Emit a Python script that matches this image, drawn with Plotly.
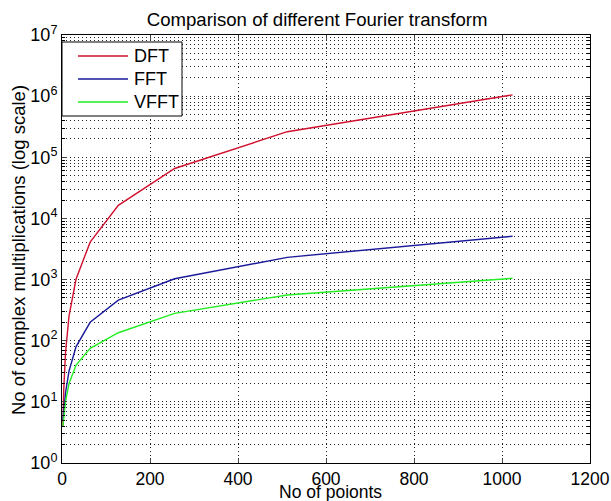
import plotly.graph_objects as go

points = [2, 4, 8, 16, 32, 64, 128, 256, 512, 1024]
dft = [4, 16, 64, 256, 1024, 4096, 16384, 65536, 262144, 1048576]
fft = [5, 8, 14, 32, 80, 200, 460, 1030, 2310, 5120]
vfft = [4, 6, 10, 20, 40, 75, 135, 280, 560, 1050]

series_names = ["DFT", "FFT", "VFFT"]
series_colors = ["#d0102e", "#1a1a9a", "#22ee22"]

xticks = [0, 200, 400, 600, 800, 1000, 1200]
yticks = [1, 10, 100, 1000, 10000, 100000, 1000000, 10000000]
ytext = ["10<sup>%d</sup>" % i for i in range(8)]

font = "Liberation Sans, Arial, sans-serif"

W, H = 611, 501
L, R, T, B = 62, 21, 35, 38
pw, ph = W - L - R, H - T - B


def px(x):
    return (x - L) / pw


def py(y):
    return (T + ph - y) / ph


fig = go.Figure()
for name, ys, col in zip(series_names, [dft, fft, vfft], series_colors):
    fig.add_trace(go.Scatter(x=points, y=ys, mode="lines", name=name,
                             line=dict(color=col, width=1.4), showlegend=False))

dots = "1px,3px"
grid = dict(showgrid=True, gridcolor="#222222", griddash=dots, gridwidth=1)

# legend drawn as a box with samples
shapes = [dict(type="rect", xref="paper", yref="paper",
               x0=px(62), x1=px(182), y0=py(116), y1=py(42),
               line=dict(color="black", width=1), fillcolor="white",
               layer="above")]
annotations = []
for i, (name, col) in enumerate(zip(series_names, series_colors)):
    yy = 56 + i * 23
    shapes.append(dict(type="line", xref="paper", yref="paper",
                       x0=px(78), x1=px(128), y0=py(yy), y1=py(yy),
                       line=dict(color=col, width=1.4), layer="above"))
    annotations.append(dict(text=name, xref="paper", yref="paper",
                            x=px(132), y=py(yy), xanchor="left",
                            yanchor="middle", showarrow=False,
                            font=dict(size=18)))

annotations += [
    dict(text="No of poionts", xref="paper", yref="paper",
         x=px(330), y=py(491.5), xanchor="center", yanchor="middle",
         showarrow=False, font=dict(size=17.5)),
    dict(text="No of complex multiplications (log scale)", xref="paper",
         yref="paper", x=px(19), y=py(250), xanchor="center",
         yanchor="middle", textangle=-90, showarrow=False,
         font=dict(size=18.5)),
]

fig.update_layout(
    width=W, height=H,
    margin=dict(l=L, r=R, t=T, b=B, autoexpand=False),
    paper_bgcolor="white", plot_bgcolor="white",
    font=dict(family=font, size=18, color="black"),
    title=dict(text="Comparison of different Fourier transform",
               x=px(336), xanchor="center", y=1 - 19 / H,
               yanchor="middle", font=dict(size=18.6)),
    showlegend=False,
    xaxis=dict(range=[0, 1200], tickvals=xticks, ticks="inside", ticklen=5,
               showline=True, linecolor="black", linewidth=1, mirror="ticks",
               zeroline=False, tickfont=dict(size=17.5), automargin=False,
               **grid),
    yaxis=dict(type="log", range=[0, 7], tickvals=yticks, ticktext=ytext,
               ticks="inside", ticklen=5, showline=True, linecolor="black",
               linewidth=1, mirror="ticks", zeroline=False,
               tickfont=dict(size=18), automargin=False,
               minor=dict(dtick="D1", ticks="inside", ticklen=3, tickcolor="black",
                          showgrid=True, gridcolor="#222222", griddash=dots,
                          gridwidth=1),
               **grid),
    shapes=shapes,
    annotations=annotations,
)

fig.write_html("out.html",
               config={"displayModeBar": False},
               post_script="document.body.style.margin='0';"
                           "document.body.style.padding='0';")
